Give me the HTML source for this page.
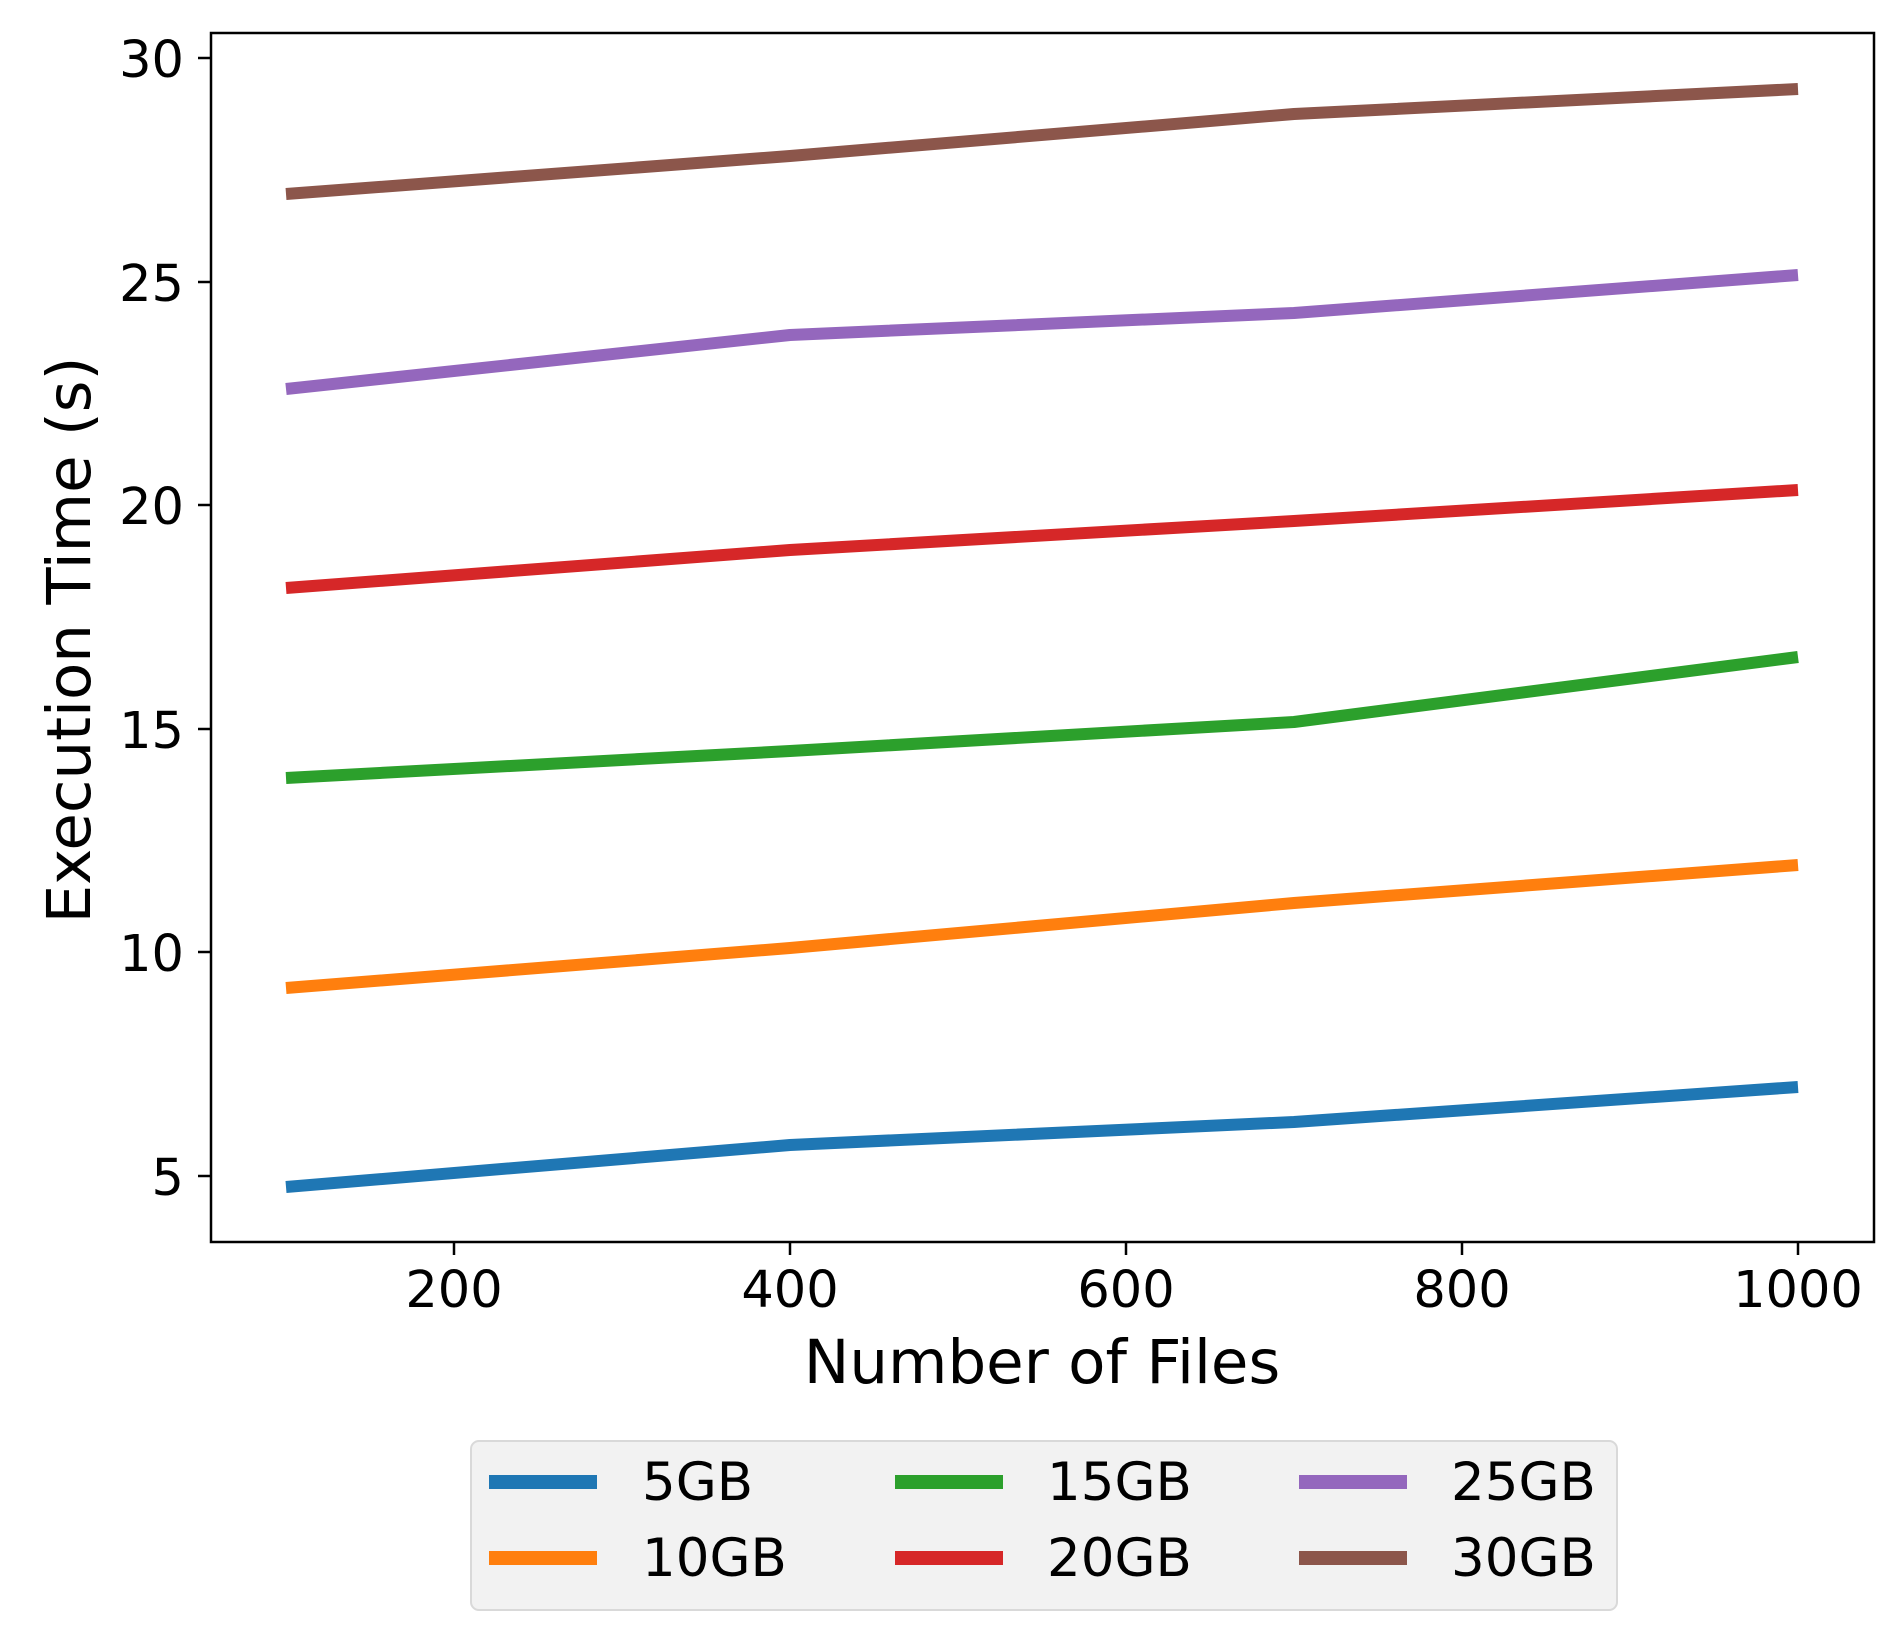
<!DOCTYPE html>
<html><head><style>body{margin:0;background:#fff}svg{display:block}</style></head><body>
<svg width="1892" height="1637" xmlns="http://www.w3.org/2000/svg" font-family="DejaVu Sans, Liberation Sans, sans-serif">
<rect width="1892" height="1637" fill="#fff"/>
<g fill="none" stroke-width="12" stroke-linejoin="round">
<polyline stroke="#1f77b4" points="286,1187 790,1145 1294,1122 1798,1087"/>
<polyline stroke="#ff7f0e" points="286,988 790,948 1294,903 1798,865"/>
<polyline stroke="#2ca02c" points="286,778 790,751 1294,722 1798,657"/>
<polyline stroke="#d62728" points="286,588 790,550 1294,521 1798,490"/>
<polyline stroke="#9467bd" points="286,389 790,335 1294,313 1798,275"/>
<polyline stroke="#8c564b" points="286,194 790,156 1294,114 1798,89"/>
</g>
<rect x="211" y="33" width="1663" height="1209" fill="none" stroke="#000" stroke-width="2.5"/>
<g stroke="#000" stroke-width="2.5">
<line x1="454" y1="1242" x2="454" y2="1255"/><line x1="790" y1="1242" x2="790" y2="1255"/><line x1="1126" y1="1242" x2="1126" y2="1255"/><line x1="1462" y1="1242" x2="1462" y2="1255"/><line x1="1798" y1="1242" x2="1798" y2="1255"/>
<line x1="198" y1="58" x2="211" y2="58"/><line x1="198" y1="282" x2="211" y2="282"/><line x1="198" y1="505" x2="211" y2="505"/><line x1="198" y1="729" x2="211" y2="729"/><line x1="198" y1="952" x2="211" y2="952"/><line x1="198" y1="1176" x2="211" y2="1176"/>
</g>
<g font-size="51" fill="#000" text-anchor="middle">
<text x="454" y="1307">200</text><text x="790" y="1307">400</text><text x="1126" y="1307">600</text><text x="1462" y="1307">800</text><text x="1798" y="1307">1000</text>
</g>
<g font-size="51" fill="#000" text-anchor="end">
<text x="184" y="77">30</text><text x="184" y="301">25</text><text x="184" y="524">20</text><text x="184" y="748">15</text><text x="184" y="971">10</text><text x="184" y="1195">5</text>
</g>
<text x="1042" y="1383" font-size="61" text-anchor="middle">Number of Files</text>
<text transform="translate(90,640) rotate(-90)" font-size="61" text-anchor="middle">Execution Time (s)</text>
<rect x="471" y="1441" width="1146" height="169" rx="8" fill="#f2f2f2" stroke="#d9d9d9" stroke-width="2"/>
<g stroke-width="14">
<line x1="489" y1="1482" x2="597" y2="1482" stroke="#1f77b4"/>
<line x1="489" y1="1558" x2="597" y2="1558" stroke="#ff7f0e"/>
<line x1="895" y1="1482" x2="1003" y2="1482" stroke="#2ca02c"/>
<line x1="895" y1="1558" x2="1003" y2="1558" stroke="#d62728"/>
<line x1="1299" y1="1482" x2="1407" y2="1482" stroke="#9467bd"/>
<line x1="1299" y1="1558" x2="1407" y2="1558" stroke="#8c564b"/>
</g>
<g font-size="53" fill="#000">
<text x="642" y="1500">5GB</text><text x="642" y="1576">10GB</text>
<text x="1047" y="1500">15GB</text><text x="1047" y="1576">20GB</text>
<text x="1451" y="1500">25GB</text><text x="1451" y="1576">30GB</text>
</g>
</svg>
</body></html>
